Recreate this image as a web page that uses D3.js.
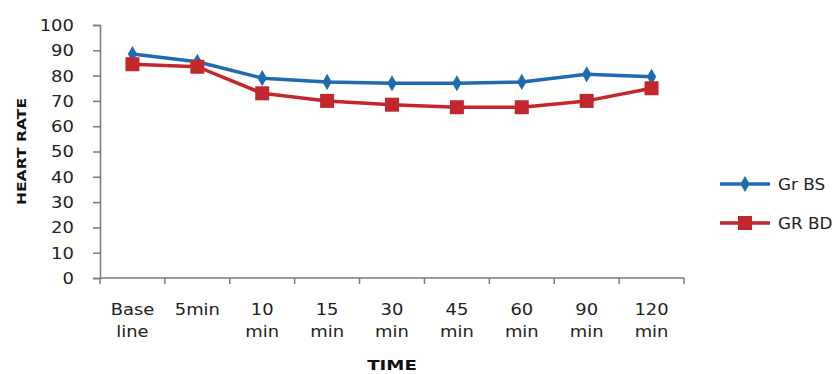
<!DOCTYPE html>
<html>
<head>
<meta charset="utf-8">
<script src="https://cdn.jsdelivr.net/npm/d3@7"></script>
<style>
  html, body { margin: 0; padding: 0; background: #fff; }
  svg { display: block; }
  text { font-family: "DejaVu Sans", Verdana, sans-serif; fill: #222; }
</style>
</head>
<body>
<svg id="chart" width="840" height="374"></svg>
<script>
// Time points (two-line labels) and heart rate per group
const timeLabels = [["Base", "line"], ["5min"], ["10", "min"], ["15", "min"], ["30", "min"], ["45", "min"], ["60", "min"], ["90", "min"], ["120", "min"]];
const categories = timeLabels.map(d => d.join(" "));
const grBS = [88.5, 85.5, 79, 77.5, 77, 77, 77.5, 80.5, 79.5];
const grBD = [84.5, 83.5, 73, 70, 68.5, 67.5, 67.5, 70, 75];
const yTicks = [0, 10, 20, 30, 40, 50, 60, 70, 80, 90, 100];

const series = [
  { name: "Gr BS", values: grBS, color: "#1f6bb0", marker: "diamond" },
  { name: "GR BD", values: grBD, color: "#c1272d", marker: "square" }
];

const svg = d3.select("#chart");
const m = { left: 100, right: 156, top: 25, bottom: 96 };
const W = 840, H = 374;

const x = d3.scaleBand().domain(categories).range([m.left, W - m.right]).padding(0);
const y = d3.scaleLinear().domain([0, 100]).range([H - m.bottom, m.top]);
const cx = c => x(c) + x.bandwidth() / 2;

const axisColor = "#7a7a7a";

// Y axis
const gy = svg.append("g").attr("transform", `translate(${m.left},0)`)
  .call(d3.axisLeft(y).tickValues(yTicks).tickSize(7).tickPadding(8));
gy.select(".domain").attr("stroke", axisColor).attr("stroke-width", 1.5);
gy.selectAll(".tick line").attr("stroke", axisColor).attr("stroke-width", 1.5);
gy.selectAll(".tick text")
  .style("font-size", "15px")
  .attr("x", null).attr("dx", null)
  .attr("text-anchor", "end")
  .attr("transform", "translate(-26,0) scale(1.2,1)")
  .attr("dy", "0.36em");

// X axis: line at zero, ticks at category boundaries
const gx = svg.append("g").attr("transform", `translate(0,${y(0)})`);
gx.append("line").attr("x1", m.left).attr("x2", W - m.right)
  .attr("stroke", axisColor).attr("stroke-width", 1.5);
const bounds = categories.map(c => x(c)).concat([x(categories[categories.length - 1]) + x.bandwidth()]);
gx.selectAll("line.tk").data(bounds).join("line").attr("class", "tk")
  .attr("x1", d => d).attr("x2", d => d).attr("y1", 0).attr("y2", 6)
  .attr("stroke", axisColor).attr("stroke-width", 1.5);

const xl = gx.selectAll("g.lbl").data(timeLabels).join("g").attr("class", "lbl")
  .attr("transform", (d, i) => `translate(${cx(categories[i])},0)`);
xl.each(function(lines) {
  const g = d3.select(this);
  lines.forEach((t, j) => {
    g.append("text").text(t)
      .attr("text-anchor", "middle")
      .attr("transform", `translate(0,${37 + j * 22}) scale(1.12,1)`)
      .style("font-size", "16px");
  });
});

// Axis titles
svg.append("text").text("TIME")
  .attr("text-anchor", "middle")
  .attr("transform", `translate(${(m.left + W - m.right) / 2},${H - 4}) scale(1.3,1)`)
  .style("font-size", "14px").style("font-weight", "bold").style("fill", "#111");
svg.append("text").text("HEART RATE")
  .attr("text-anchor", "middle")
  .attr("transform", `translate(26,${(y(0) + y(100)) / 2}) rotate(-90) scale(1.2,1)`)
  .style("font-size", "13px").style("font-weight", "bold").style("fill", "#111");

// Lines and markers
const line = d3.line().x((d, i) => cx(categories[i])).y(d => y(d));
const diamond = d3.symbol().type(d3.symbolDiamond).size(75);

function drawMarker(g, s, px, py) {
  if (s.marker === "square") {
    g.append("rect").attr("x", px - 7).attr("y", py - 7).attr("width", 14).attr("height", 14)
      .attr("fill", s.color);
  } else {
    g.append("path").attr("d", diamond()).attr("transform", `translate(${px},${py})`)
      .attr("fill", s.color);
  }
}

series.forEach(s => {
  svg.append("path").datum(s.values).attr("d", line)
    .attr("fill", "none").attr("stroke", s.color).attr("stroke-width", 3.5)
    .attr("stroke-linejoin", "round");
  const g = svg.append("g");
  s.values.forEach((v, i) => drawMarker(g, s, cx(categories[i]), y(v)));
});

// Legend
const lg = svg.append("g");
series.forEach((s, i) => {
  const ly = 184 + i * 39;
  lg.append("line").attr("x1", 720).attr("x2", 770).attr("y1", ly).attr("y2", ly)
    .attr("stroke", s.color).attr("stroke-width", 3.5);
  drawMarker(lg, s, 745, ly);
  lg.append("text").text(s.name)
    .attr("transform", `translate(778,${ly + 5.5}) scale(1.12,1)`)
    .style("font-size", "15px");
});
</script>
</body>
</html>
